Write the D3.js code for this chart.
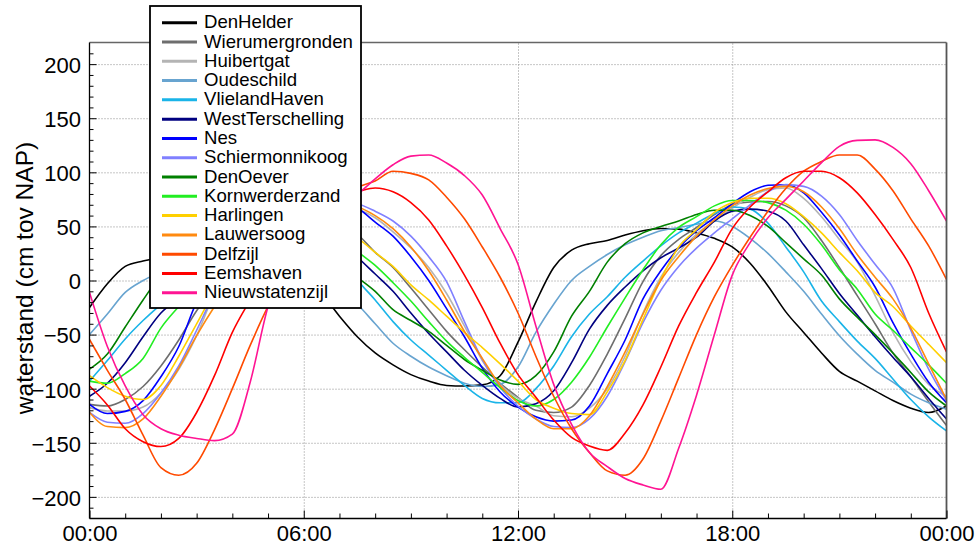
<!DOCTYPE html>
<html><head><meta charset="utf-8">
<script src="https://cdn.jsdelivr.net/npm/d3@7/dist/d3.min.js"></script>
<style>
body{margin:0;background:#fff;}
svg{display:block;font-family:"Liberation Sans",Arial,Helvetica,sans-serif;}
</style>
</head><body>
<svg id="chart" width="976" height="548"></svg>
<script>
// time in hours (every 30 minutes)
const hours = [0,0.5,1,1.5,2,2.5,3,3.5,4,4.5,5,5.5,6,6.5,7,7.5,8,8.5,9,9.5,10,10.5,11,11.5,12,12.5,13,13.5,14,14.5,15,15.5,16,16.5,17,17.5,18,18.5,19,19.5,20,20.5,21,21.5,22,22.5,23,23.5,24];

const denHelder = [-25,-3,13,18,21,24,27,30,31,29,24,15,3,-12,-33,-52,-67,-78,-87,-93,-97,-97.5,-96.5,-88,-57,-20,12,28,34,37,42,46,48,47.5,44,39,31,16,-5,-29,-48,-67,-84,-93,-102,-111,-118,-122,-116];
const wierumergronden = [-114.5,-116,-110,-98,-79,-55,-28,-6,16,33,45,55,60,60,55,43,26,12,-7,-27,-47,-64,-80,-95,-108,-120,-122,-117,-97,-68,-35,-1,23,38,49,61,70,72.5,73,69,58,37,12,-14,-40,-67,-89,-112,-134];
const huibertgat = [-117.5,-120.6,-120.6,-117,-104,-82,-51,-12,14,35,50,60,67,70,70,66,58,45,30,12,-12,-42,-74,-96,-109,-116,-125,-126,-118,-100,-70,-30,3,26,43,55,67,77,84,85.5,76,59,38,17,-14,-48,-75,-96,-107];
const oudeschild = [-50,-31,-11,0,8,16,22,27,30,31,29,24,15,4,-8,-22,-40,-58,-70,-80,-88,-95,-98,-96,-80,-48,-22,0,13,24,33,40,46,49,52,55,50,39,25,8,-10,-31,-51,-68,-83,-94,-105,-113,-119];
const vlielandHaven = [-93,-74,-54,-37,-22,-8,5,17,30,42,52,57,58,48,28,1,-18,-38,-55,-69,-83,-97,-109,-113,-113,-100,-79,-52,-31,-15,3,18,32,44,53,62,68,66,53,31,8,-19,-38,-56,-72,-91,-110,-126,-139];
const westTerschelling = [-107,-95,-76,-52,-30,-17,-5,8,20,32,44,54,59,55,40,22,6,-10,-30,-49,-66,-83,-97,-109,-117,-114,-102,-76,-45,-23,-6,9,21,30,40,55,64,66,64,55,33,11,-12,-32,-52,-71,-89,-109,-128];
const nes = [-114.5,-123,-121,-111,-89,-61,-20,5,28,45,57,66,72,74,72,67,54,41,22,0,-26,-52,-81,-103,-117,-126,-130,-129,-116,-86,-55,-17,9,30,46,58,71,82,88,88.5,81,63,42,18,-6,-39,-68,-94,-113];
const schiermonnikoog = [-122,-131,-132,-123,-104,-79,-46,-12,12,33,48,59,67,72,73,71,64,55,41,22,-1,-38,-73,-99,-116,-128,-135,-136,-128,-107,-75,-39,-9,13,30,44,57,70,82,88.6,87,78,61,37,15,-7,-46,-82,-111];
const denOever = [-82,-68,-43,-18,5,22,32,40,45,48,49,46,38,28,16,3,-10,-27,-37,-47,-60,-73,-83,-92,-96,-88,-66,-33,-10,17,34,44,50,55,61,65,65,60,50,35,20,5,-17,-34,-50,-67,-85,-103,-116];
const kornwerderzand = [-93,-95,-86,-72,-44,-24,-5,15,32,45,53,57,58,53,42,27,14,-2,-19,-38,-56,-71,-85,-99,-111,-116,-110,-94,-71,-43,-16,10,33,49,59,69,74,74,72,65,52,33,10,-8,-31,-46,-62,-78,-95];
const harlingen = [-88,-99,-107,-110,-97,-70,-40,-10,15,35,50,60,64,63,56,40,26,13,-4,-18,-33,-48,-62,-77,-93,-110,-118,-123,-124,-103,-74,-36,1,31,47,63,72,76,76,71,59,44,26,9,-11,-24,-42,-59,-76];
const lauwersoog = [-122,-135,-136,-128,-107,-81,-51,-24,0,22,40,52,61,67,70,68,60,48,31,9,-18,-47,-72,-97,-113,-128,-137,-137,-125,-98,-66,-31,0,22,41,56,69,79,85,87,82,68,48,24,3,-17,-44,-77,-110];
const delfzijl = [-54.5,-83,-110,-143,-173,-180,-169,-138,-100,-60,-24,5,32,56,74,86,92,101,99,93,77,57,31,3,-30,-70,-107,-137,-159,-176,-180,-165,-130,-90,-50,-15,14,40,64,85,101,110,116,116,103,83,57,32,1];
const eemshaven = [-97.5,-115,-137,-149,-153.5,-146,-122,-88,-48,-18,10,35,55,70,78,82,85.5,82,72,56,32,5,-25,-58,-87,-108,-129,-145,-153,-157,-141,-115,-80,-42,-11,17,48,68,82,95,101,101,95,81,61,38,12,-30,-66];
const nieuwstatenzijl = [-11,-61,-97.5,-124,-137,-143,-146,-148,-142,-94,-24,18,45,62,72,80,94,107,115,116,108.6,97,79,48,15,-42,-96,-133,-159,-172,-183,-189,-193,-155,-106,-50,5,35,58,75,92,109,124,129.5,130,123,108,83,55];

const stationNames = ["DenHelder","Wierumergronden","Huibertgat","Oudeschild","VlielandHaven","WestTerschelling","Nes","Schiermonnikoog","DenOever","Kornwerderzand","Harlingen","Lauwersoog","Delfzijl","Eemshaven","Nieuwstatenzijl"];
const stationValues = [denHelder,wierumergronden,huibertgat,oudeschild,vlielandHaven,westTerschelling,nes,schiermonnikoog,denOever,kornwerderzand,harlingen,lauwersoog,delfzijl,eemshaven,nieuwstatenzijl];
const stationColors = ["#000000","#6e6e6e","#b4b4b4","#68a4d0","#1ab4e8","#000080","#0000ff","#8080ff","#008000","#22ee22","#ffd000","#ff8a10","#ff4a00","#ff0000","#ff1493"];

const xMajorTicks = [0,6,12,18,24];
const xTickLabels = ["00:00","06:00","12:00","18:00","00:00"];
const xMinorTicks = [1,2,3,4,5,7,8,9,10,11,13,14,15,16,17,19,20,21,22,23];
const yMajorTicks = [-200,-150,-100,-50,0,50,100,150,200];
const yMinorTicks = [-210,-190,-180,-170,-160,-140,-130,-120,-110,-90,-80,-70,-60,-40,-30,-20,-10,10,20,30,40,60,70,80,90,110,120,130,140,160,170,180,190,210];
const yLabel = "waterstand (cm tov NAP)";

const L = 89.5, R = 946.5, T = 42.5, B = 518.5;
const svg = d3.select("#chart");
const x = d3.scaleLinear().domain([0,24]).range([L,R]);
const y = d3.scaleLinear().domain([-220,220]).range([B,T]);

// grid
const grid = svg.append("g");
grid.append("g").attr("transform",`translate(${L},0)`)
  .call(d3.axisLeft(y).tickValues(yMajorTicks).tickSize(-(R-L)).tickFormat(""))
  .call(g=>{g.select(".domain").remove(); g.selectAll("line").attr("stroke","#8c8c8c").attr("stroke-dasharray","1,2");});
grid.append("g").attr("transform",`translate(0,${B})`)
  .call(d3.axisBottom(x).tickValues(xMajorTicks.slice(1,4)).tickSize(-(B-T)).tickFormat(""))
  .call(g=>{g.select(".domain").remove(); g.selectAll("line").attr("stroke","#8c8c8c").attr("stroke-dasharray","1,2");});

// lines
svg.append("clipPath").attr("id","clip").append("rect").attr("x",L).attr("y",T).attr("width",R-L).attr("height",B-T);
const line = d3.line().x((d,i)=>x(hours[i])).y(d=>y(d)).curve(d3.curveMonotoneX);
const lines = svg.append("g").attr("clip-path","url(#clip)");
stationValues.forEach((vals,k)=>{
  lines.append("path").datum(vals).attr("d",line).attr("fill","none")
    .attr("stroke",stationColors[k]).attr("stroke-width",1.6).attr("stroke-linejoin","round");
});

// frame top/right
svg.append("line").attr("x1",L).attr("x2",R).attr("y1",T).attr("y2",T).attr("stroke","#666").attr("stroke-width",1.3);
svg.append("line").attr("x1",R).attr("x2",R).attr("y1",T).attr("y2",B).attr("stroke","#555").attr("stroke-width",1.8);

// axes
const fs = 22;
const yAx = svg.append("g").attr("transform",`translate(${L},0)`)
  .call(d3.axisLeft(y).tickValues(yMajorTicks).tickSize(-7).tickPadding(8.5));
yAx.select(".domain").remove();
yAx.selectAll("text").attr("font-size",fs).attr("font-family","Liberation Sans, Arial, sans-serif").attr("dy","0.38em").attr("fill","#000");
yAx.selectAll("line").attr("stroke","#000");
svg.append("g").attr("transform",`translate(${L},0)`)
  .call(d3.axisLeft(y).tickValues(yMinorTicks).tickSize(-4).tickFormat(""))
  .call(g=>{g.select(".domain").remove(); g.selectAll("line").attr("stroke","#000");});

const xAx = svg.append("g").attr("transform",`translate(0,${B})`)
  .call(d3.axisBottom(x).tickValues(xMajorTicks).tickSize(-8).tickPadding(6.5).tickFormat((d,i)=>xTickLabels[i]));
xAx.select(".domain").remove();
xAx.selectAll("text").attr("font-size",fs).attr("font-family","Liberation Sans, Arial, sans-serif").attr("fill","#000");
xAx.selectAll("line").attr("stroke","#000");
svg.append("g").attr("transform",`translate(0,${B})`)
  .call(d3.axisBottom(x).tickValues(xMinorTicks).tickSize(-5).tickFormat(""))
  .call(g=>{g.select(".domain").remove(); g.selectAll("line").attr("stroke","#000");});

svg.append("line").attr("x1",L).attr("x2",L).attr("y1",T).attr("y2",B).attr("stroke","#000").attr("stroke-width",1.3);
svg.append("line").attr("x1",L).attr("x2",R).attr("y1",B).attr("y2",B).attr("stroke","#000").attr("stroke-width",1.3);

// y label
svg.append("text").attr("transform","translate(33,278) rotate(-90)")
  .attr("text-anchor","middle").attr("font-size",24.5).text(yLabel);

// legend
const lg = svg.append("g");
lg.append("rect").attr("x",150).attr("y",6).attr("width",211).attr("height",302)
  .attr("fill","#fff").attr("stroke","#000").attr("stroke-width",1.8);
stationNames.forEach((n,i)=>{
  const by = 28.3 + i*19.29;
  lg.append("line").attr("x1",162).attr("x2",197).attr("y1",by-5.6).attr("y2",by-5.6)
    .attr("stroke",stationColors[i]).attr("stroke-width",3);
  lg.append("text").attr("x",204).attr("y",by).attr("font-size",18.6).text(n);
});
</script>
</body></html>
